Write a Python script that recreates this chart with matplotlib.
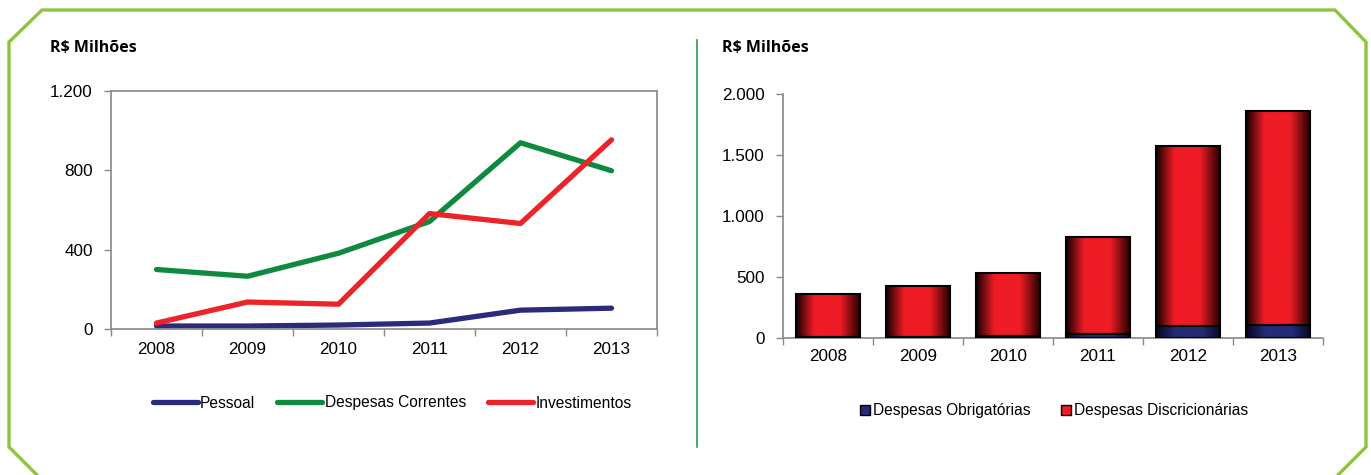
import matplotlib
matplotlib.use("Agg")
import matplotlib.pyplot as plt
import numpy as np
from matplotlib.colors import LinearSegmentedColormap
from matplotlib.lines import Line2D
from matplotlib.patches import Patch
from matplotlib.ticker import FuncFormatter, FixedLocator

plt.rcParams["font.family"] = ["Liberation Sans", "DejaVu Sans"]

anos = ["2008", "2009", "2010", "2011", "2012", "2013"]

# despesas por grupo (R$ milhões)
pessoal = [15, 15, 20, 30, 95, 105]
despesas_correntes = [300, 266, 382, 542, 939, 798]
investimentos = [30, 136, 125, 582, 532, 954]

obrigatorias = [10, 12, 20, 30, 100, 110]
discricionarias = [350, 414, 513, 798, 1474, 1751]

W, H = 1371, 475
fig = plt.figure(figsize=(W / 100, H / 100), dpi=100)


def px(x, y):
    return x / W, 1 - y / H


def milhar(v, pos):
    return f"{v:,.0f}".replace(",", ".")


def estilo_eixo(ax, n, pad_x):
    ax.set_xlim(-0.5, n - 0.5)
    ax.set_xticks(range(n))
    ax.set_xticklabels(anos)
    ax.xaxis.set_minor_locator(FixedLocator(np.arange(-0.5, n, 1.0)))
    ax.tick_params(axis="x", which="major", length=0, pad=pad_x, labelsize=12.3)
    ax.tick_params(axis="x", which="minor", length=5, width=1, color="#888888",
                   direction="out")
    ax.tick_params(axis="y", length=5, width=1, color="#888888", pad=8,
                   labelsize=12.3)
    ax.yaxis.set_major_formatter(FuncFormatter(milhar))


# ---- gráfico de linhas
ax1 = fig.add_axes([111 / W, (H - 329) / H, 546 / W, 238 / H])
x = np.arange(len(anos))
ax1.plot(x, pessoal, color="#2b2b7e", lw=3.8, solid_capstyle="round", label="Pessoal")
ax1.plot(x, despesas_correntes, color="#0e8a3e", lw=3.8, solid_capstyle="round",
         label="Despesas Correntes")
ax1.plot(x, investimentos, color="#ee2229", lw=3.8, solid_capstyle="round",
         label="Investimentos")
ax1.set_ylim(0, 1200)
ax1.set_yticks([0, 400, 800, 1200])
estilo_eixo(ax1, len(anos), 9)
for s in ax1.spines.values():
    s.set_color("#888888")
    s.set_linewidth(1.2)

fig.legend(*ax1.get_legend_handles_labels(), loc="center",
           bbox_to_anchor=px(392, 403), ncol=3, frameon=False, fontsize=11.2,
           handlelength=2.9, handletextpad=0.15, columnspacing=1.4)

# ---- gráfico de barras com gradiente cilíndrico
ax2 = fig.add_axes([783 / W, (H - 338) / H, 540 / W, 244 / H])
cm_vermelho = LinearSegmentedColormap.from_list(
    "verm", [(0, "#120000"), (0.28, "#ee1c25"), (0.68, "#ee1c25"), (1, "#1a0000")])
cm_azul = LinearSegmentedColormap.from_list(
    "azul", [(0, "#05051e"), (0.3, "#262b78"), (0.7, "#262b78"), (1, "#07071f")])
grad = np.linspace(0, 1, 256).reshape(1, -1)

b1 = ax2.bar(x, obrigatorias, width=0.72, facecolor="none", edgecolor="black",
             lw=1.5, zorder=3)
b2 = ax2.bar(x, discricionarias, width=0.72, bottom=obrigatorias, facecolor="none",
             edgecolor="black", lw=1.5, zorder=3)
for barras, cmap in ((b1, cm_azul), (b2, cm_vermelho)):
    for r in barras:
        bx, by, bw, bh = r.get_x(), r.get_y(), r.get_width(), r.get_height()
        im = ax2.imshow(grad, cmap=cmap, aspect="auto", zorder=2,
                        extent=[bx, bx + bw, by, by + bh], interpolation="bicubic")
        im.set_clip_path(r)

ax2.set_ylim(0, 2000)
ax2.set_yticks([0, 500, 1000, 1500, 2000])
estilo_eixo(ax2, len(anos), 8)
ax2.spines[["top", "right"]].set_visible(False)
for s in ("left", "bottom"):
    ax2.spines[s].set_color("#888888")
    ax2.spines[s].set_linewidth(1.2)

leg_barras = [Patch(facecolor="#262b78", edgecolor="black", label="Despesas Obrigatórias"),
              Patch(facecolor="#ee1c25", edgecolor="black", label="Despesas Discricionárias")]
fig.legend(handles=leg_barras, loc="center", bbox_to_anchor=px(1054, 411), ncol=2,
           frameon=False, fontsize=11.2, handlelength=0.65, handleheight=0.65,
           handletextpad=0.15, columnspacing=2.0)

# títulos
for tx in (50, 722):
    fig.text(*px(tx, 48), "R$ Milhões", family=["Open Sans", "DejaVu Sans"],
             weight="bold", fontsize=11.5, va="center", ha="left")

# moldura verde e divisória
moldura = [(9, 447), (9, 42), (42, 10), (1335, 10), (1366, 42), (1366, 447),
           (1338, 475)]
mx, my = zip(*[px(a, b) for a, b in [(37, 475)] + moldura])
fig.add_artist(Line2D(mx, my, color="#8cc43f", lw=2.4, solid_joinstyle="miter"))
fig.add_artist(Line2D(*zip(px(697, 40), px(697, 447)), color="#2f9a4c", lw=1.2))

fig.savefig("out.png", dpi=100)
